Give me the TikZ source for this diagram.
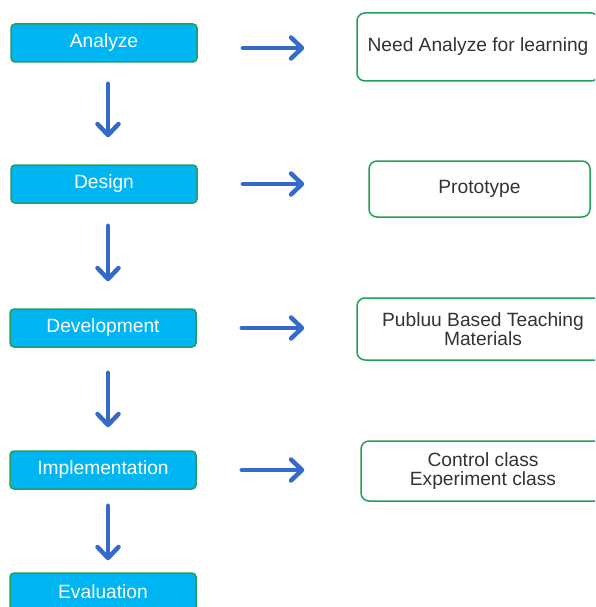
\documentclass[tikz,border=0pt]{standalone}
\usepackage{fontspec}
\setmainfont{Liberation Sans}
\usepackage{tikz}
\usetikzlibrary{arrows.meta}
\definecolor{stepCyan}{RGB}{0,182,242}
\definecolor{stepGreen}{RGB}{34,160,88}
\definecolor{flowBlue}{RGB}{54,106,200}
\definecolor{textGray}{RGB}{51,51,51}

\begin{document}
\begin{tikzpicture}[x=1pt, y=1pt]%
  \tikzset{normal arrow/.style={draw,-{Straight Barb[round,length=11pt,width=21pt]},line width=4.5pt,line cap=round,flowBlue}}
  \tikzset{phase/.style={draw=stepGreen, fill=stepCyan, line width=1.5pt, rounded corners=4pt, text=white, minimum width=186pt, minimum height=38pt, inner sep=0pt, font=\fontsize{19.2}{19}\selectfont}}
  \tikzset{result/.style={draw=stepGreen, fill=white, line width=1.5pt, rounded corners=8pt, text=textGray, align=center, inner sep=0pt, font=\fontsize{19.2}{19}\selectfont}}

  \useasboundingbox (0,0) rectangle (595,-607);
  \clip (0,0) rectangle (595,-607);

  % ADDIE steps
  \node[phase] at (104,-43) (AN) {Analyze};
  \node[phase] at (104,-184) (DE) {Design};
  \node[phase] at (103,-328) (DV) {Development};
  \node[phase] at (103,-470) (IM) {Implementation};
  \node[phase] at (103,-592) (EV) {Evaluation};

  % outputs of each step
  \node[result, minimum width=242pt, minimum height=68pt] at (478,-47) (NEED) {Need Analyze for learning};
  \node[result, minimum width=221pt, minimum height=56pt] at (479.5,-189) (PROTO) {Prototype};
  \node[result, minimum width=252pt, minimum height=62pt] at (483,-329) (PUB) {Publuu Based Teaching\\Materials};
  \node[result, minimum width=244pt, minimum height=60pt] at (483,-471) (CLS) {Control class\\Experiment class};

  \draw[normal arrow,shorten <=21pt,shorten >=27pt] ([xshift=4pt]AN.south) -- ([xshift=4pt]DE.north);
  \draw[normal arrow,shorten <=22pt,shorten >=27pt] ([xshift=4pt]DE.south) -- ([xshift=4pt]DE.south |- DV.north);
  \draw[normal arrow,shorten <=25pt,shorten >=23pt] ([xshift=5pt]DV.south) -- ([xshift=5pt]IM.north);
  \draw[normal arrow,shorten <=16pt,shorten >=12pt] ([xshift=5pt]IM.south) -- ([xshift=5pt]EV.north);

  \draw[normal arrow,shorten <=45pt,shorten >=52pt] ([yshift=-5pt]AN.east) -- ([yshift=-5pt]AN.east -| NEED.west);
  \draw[normal arrow,shorten <=45pt,shorten >=64pt] (DE.east) -- (DE.east -| PROTO.west);
  \draw[normal arrow,shorten <=45pt,shorten >=52pt] (DV.east) -- (DV.east -| PUB.west);
  \draw[normal arrow,shorten <=45pt,shorten >=56pt] (IM.east) -- (IM.east -| CLS.west);
\end{tikzpicture}
\end{document}
